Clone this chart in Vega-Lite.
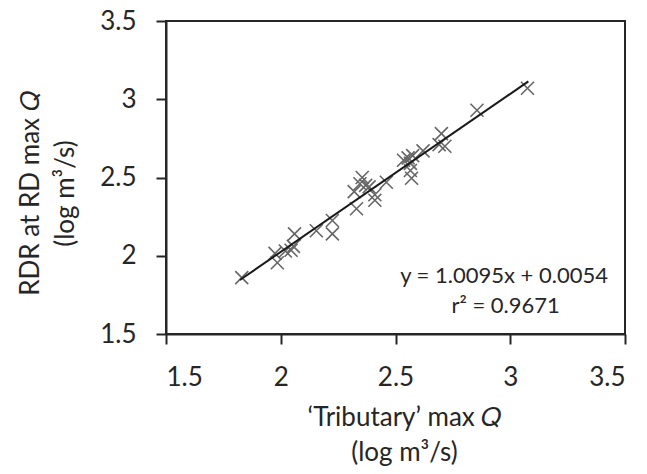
{
  "$schema": "https://vega.github.io/schema/vega-lite/v6.json",
  "width": 459,
  "height": 313,
  "autosize": "none",
  "padding": {"left": 166, "top": 21, "right": 22, "bottom": 140},
  "background": "white",
  "config": {
    "font": "Lato",
    "view": {"stroke": "#262626", "strokeWidth": 2},
    "axis": {
      "grid": false,
      "domainColor": "#262626",
      "domainWidth": 2,
      "tickColor": "#262626",
      "tickWidth": 2,
      "tickSize": 10,
      "labelFont": "Lato",
      "labelFontSize": 26,
      "labelColor": "#262626",
      "labelPadding": 20,
      "titleFont": "Lato",
      "titleFontSize": 26,
      "titleFontWeight": "normal",
      "titleColor": "#262626",
      "titleLineHeight": 35
    }
  },
  "datasets": {
    "pts": [
      {"trib": 1.83, "rdr": 1.86},
      {"trib": 1.975, "rdr": 2.015},
      {"trib": 1.985, "rdr": 1.955},
      {"trib": 2.02, "rdr": 2.03},
      {"trib": 2.045, "rdr": 2.035},
      {"trib": 2.055, "rdr": 2.06},
      {"trib": 2.06, "rdr": 2.14},
      {"trib": 2.155, "rdr": 2.16},
      {"trib": 2.225, "rdr": 2.225},
      {"trib": 2.225, "rdr": 2.14},
      {"trib": 2.32, "rdr": 2.41},
      {"trib": 2.33, "rdr": 2.3},
      {"trib": 2.345, "rdr": 2.46},
      {"trib": 2.355, "rdr": 2.5},
      {"trib": 2.37, "rdr": 2.45},
      {"trib": 2.385, "rdr": 2.44},
      {"trib": 2.41, "rdr": 2.39},
      {"trib": 2.41, "rdr": 2.355},
      {"trib": 2.46, "rdr": 2.47},
      {"trib": 2.535, "rdr": 2.61},
      {"trib": 2.555, "rdr": 2.625},
      {"trib": 2.565, "rdr": 2.59},
      {"trib": 2.565, "rdr": 2.545},
      {"trib": 2.57, "rdr": 2.495},
      {"trib": 2.575, "rdr": 2.64},
      {"trib": 2.62, "rdr": 2.67},
      {"trib": 2.69, "rdr": 2.71},
      {"trib": 2.7, "rdr": 2.78},
      {"trib": 2.715, "rdr": 2.7},
      {"trib": 2.855, "rdr": 2.93},
      {"trib": 3.075, "rdr": 3.07}
    ],
    "fit": [
      {"trib": 1.822, "rdr": 1.845},
      {"trib": 3.079, "rdr": 3.114}
    ],
    "notes": [
      {"trib": 2.973, "rdr": 1.826, "label": "y = 1.0095x + 0.0054"},
      {"trib": 2.98, "rdr": 1.634, "label": "r² = 0.9671"}
    ]
  },
  "encoding": {
    "x": {
      "field": "trib",
      "type": "quantitative",
      "scale": {"domain": [1.5, 3.5], "nice": false, "zero": false},
      "axis": {
        "values": [1.5, 2, 2.5, 3, 3.5],
        "format": "~g",
        "title": ["‘Tributary’ max 𝑄", "(log m³/s)"],
        "titleX": 238,
        "titleY": 91,
        "titleBaseline": "alphabetic",
        "titleAlign": "center"
      }
    },
    "y": {
      "field": "rdr",
      "type": "quantitative",
      "scale": {"domain": [1.5, 3.5], "nice": false, "zero": false},
      "axis": {
        "values": [1.5, 2, 2.5, 3, 3.5],
        "format": "~g",
        "title": ["RDR at RD max 𝑄", "(log m³/s)"],
        "titleX": -128,
        "titleY": 172,
        "titleAngle": -90,
        "titleBaseline": "alphabetic",
        "titleAlign": "center"
      }
    }
  },
  "layer": [
    {
      "data": {"name": "pts"},
      "mark": {
        "type": "point",
        "shape": "M-1,-1L1,1M-1,1L1,-1",
        "size": 169,
        "filled": false,
        "stroke": "#666666",
        "strokeWidth": 1.6,
        "opacity": 1
      }
    },
    {
      "data": {"name": "fit"},
      "mark": {"type": "line", "color": "#1a1a1a", "strokeWidth": 2}
    },
    {
      "data": {"name": "notes"},
      "mark": {
        "type": "text",
        "font": "Lato",
        "fontSize": 22,
        "color": "#262626",
        "align": "center",
        "baseline": "alphabetic"
      },
      "encoding": {"text": {"field": "label", "type": "nominal"}}
    }
  ]
}
